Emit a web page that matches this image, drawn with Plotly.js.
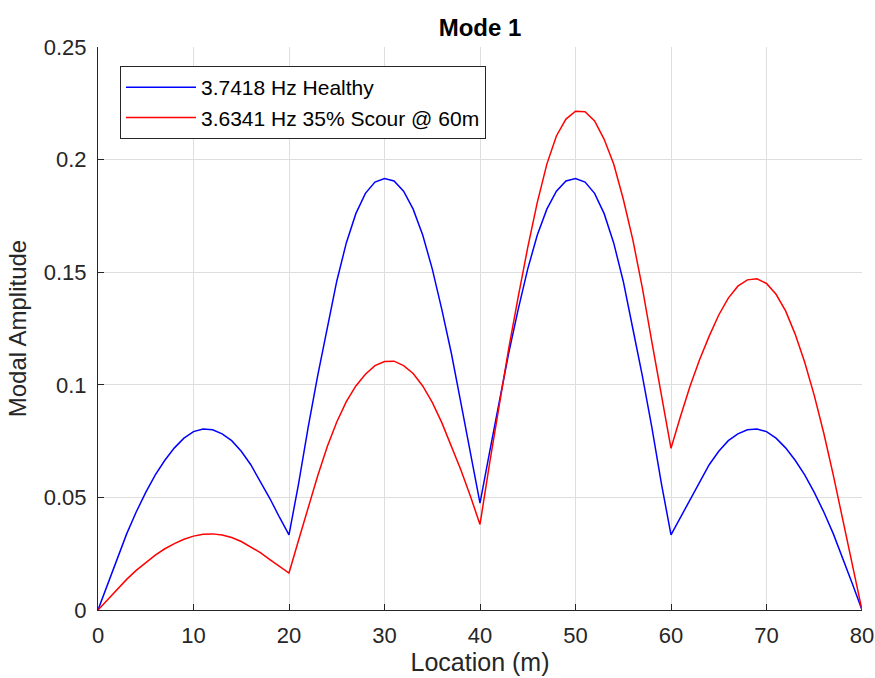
<!DOCTYPE html>
<html>
<head>
<meta charset="utf-8">
<script src="https://cdn.plot.ly/plotly-3.0.1.min.js"></script>
<style>
  html, body { margin: 0; padding: 0; background: #ffffff; }
  #chart { width: 875px; height: 678px; }
</style>
</head>
<body>
<div id="chart"></div>
<script>
// Location along the structure (m)
const location_m = [
  0, 1, 2, 3, 4, 5, 6, 7, 8, 9, 10, 11, 12, 13, 14, 15, 16, 17, 18, 19, 20,
  21, 22, 23, 24, 25, 26, 27, 28, 29, 30, 31, 32, 33, 34, 35, 36, 37, 38, 39, 40,
  41, 42, 43, 44, 45, 46, 47, 48, 49, 50, 51, 52, 53, 54, 55, 56, 57, 58, 59, 60,
  61, 62, 63, 64, 65, 66, 67, 68, 69, 70, 71, 72, 73, 74, 75, 76, 77, 78, 79, 80
];

// Mode 1 amplitude, healthy structure (3.7418 Hz)
const healthy = [
  0, 0.0115, 0.0230, 0.0338, 0.0435, 0.0522, 0.0600, 0.0665, 0.0720, 0.0763, 0.0792,
  0.0804, 0.0800, 0.0782, 0.0752, 0.0705, 0.0645, 0.0572, 0.0495, 0.0412, 0.0334,
  0.0560, 0.0810, 0.1040, 0.1250, 0.1460, 0.1630, 0.1760, 0.1850, 0.1900, 0.1916,
  0.1905, 0.1860, 0.1780, 0.1665, 0.1515, 0.1335, 0.1140, 0.0920, 0.0700, 0.0475,
  0.0700, 0.0920, 0.1140, 0.1335, 0.1515, 0.1665, 0.1780, 0.1860, 0.1905, 0.1916,
  0.1900, 0.1850, 0.1760, 0.1630, 0.1460, 0.1250, 0.1040, 0.0810, 0.0560, 0.0334,
  0.0412, 0.0495, 0.0572, 0.0645, 0.0705, 0.0752, 0.0782, 0.0800, 0.0804, 0.0792,
  0.0763, 0.0720, 0.0665, 0.0600, 0.0522, 0.0435, 0.0338, 0.0230, 0.0115, 0
];

// Mode 1 amplitude, 35% scour at 60 m (3.6341 Hz)
const scoured = [
  0, 0.0047, 0.0093, 0.0136, 0.0176, 0.0212, 0.0244, 0.0272, 0.0295, 0.0314, 0.0328,
  0.0336, 0.0338, 0.0333, 0.0322, 0.0304, 0.0281, 0.0255, 0.0224, 0.0193, 0.0164,
  0.0310, 0.0455, 0.0595, 0.0725, 0.0835, 0.0925, 0.0995, 0.1047, 0.1085, 0.1103,
  0.1105, 0.1085, 0.1050, 0.0995, 0.0922, 0.0832, 0.0728, 0.0622, 0.0505, 0.0380,
  0.0650, 0.0910, 0.1160, 0.1390, 0.1610, 0.1810, 0.1980, 0.2105, 0.2180, 0.2215,
  0.2213, 0.2172, 0.2090, 0.1980, 0.1825, 0.1645, 0.1430, 0.1190, 0.0955, 0.0718,
  0.0860, 0.0995, 0.1112, 0.1216, 0.1310, 0.1385, 0.1438, 0.1466, 0.1471, 0.1450,
  0.1402, 0.1328, 0.1225, 0.1100, 0.0953, 0.0785, 0.0598, 0.0402, 0.0202, 0
];

const seriesNames = ['3.7418 Hz Healthy', '3.6341 Hz 35% Scour @ 60m'];

const xTickVals = [0, 10, 20, 30, 40, 50, 60, 70, 80];
const xTickText = ['0', '10', '20', '30', '40', '50', '60', '70', '80'];
const yTickVals = [0, 0.05, 0.1, 0.15, 0.2, 0.25];
const yTickText = ['0', '0.05', '0.1', '0.15', '0.2', '0.25'];

const FONT = 'Arial, "Liberation Sans", Helvetica, sans-serif';
const AXIS_GRAY = '#262626';

const traces = [
  {
    x: location_m, y: healthy, name: seriesNames[0],
    type: 'scatter', mode: 'lines',
    line: { color: '#0000ff', width: 1.5 }
  },
  {
    x: location_m, y: scoured, name: seriesNames[1],
    type: 'scatter', mode: 'lines',
    line: { color: '#ff0000', width: 1.5 }
  }
];

const axisCommon = {
  showline: true,
  linecolor: AXIS_GRAY,
  linewidth: 1,
  mirror: false,
  ticks: 'inside',
  ticklen: 6,
  tickwidth: 1,
  tickcolor: AXIS_GRAY,
  showgrid: true,
  gridcolor: '#dedede',
  gridwidth: 1,
  zeroline: false,
  tickfont: { family: FONT, size: 22, color: AXIS_GRAY },
  ticklabelstandoff: 6
};

const layout = {
  width: 875,
  height: 678,
  margin: { l: 98, r: 13, t: 47, b: 68 },
  paper_bgcolor: '#ffffff',
  plot_bgcolor: '#ffffff',
  showlegend: true,
  title: {
    text: '<b>Mode 1</b>',
    font: { family: FONT, size: 24, color: '#000000' },
    x: 0.5, xref: 'paper', xanchor: 'center',
    y: 1 - 28 / 678, yref: 'container', yanchor: 'middle'
  },
  xaxis: Object.assign({}, axisCommon, {
    range: [0, 80],
    tickmode: 'array',
    tickvals: xTickVals,
    ticktext: xTickText,
    title: { text: 'Location (m)', font: { family: FONT, size: 25, color: AXIS_GRAY }, standoff: 5 }
  }),
  yaxis: Object.assign({}, axisCommon, {
    range: [0, 0.25],
    tickmode: 'array',
    tickvals: yTickVals,
    ticktext: yTickText,
    title: { text: 'Modal Amplitude', font: { family: FONT, size: 24, color: AXIS_GRAY }, standoff: 10 }
  }),
  legend: {
    x: (120 - 98) / 764,
    y: (610 - 66) / 563,
    xanchor: 'left',
    yanchor: 'top',
    bgcolor: '#ffffff',
    bordercolor: AXIS_GRAY,
    borderwidth: 1,
    itemwidth: 70,
    font: { family: FONT, size: 21, color: '#000000' }
  }
};

Plotly.newPlot('chart', traces, layout, { staticPlot: true, displayModeBar: false });
</script>
</body>
</html>
